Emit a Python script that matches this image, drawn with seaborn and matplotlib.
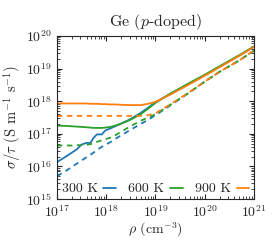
import numpy as np
import pandas as pd
import matplotlib
matplotlib.use("Agg")
import matplotlib.pyplot as plt
import seaborn as sns
from matplotlib.ticker import LogLocator

# carrier density (cm^-3) as log10 values
log_rho = [17.0, 17.18, 17.3, 17.4, 17.5, 17.6, 17.68, 17.74, 17.81, 17.91, 17.98,
           18.08, 18.18, 18.3, 18.48, 18.7, 18.85, 19.0, 19.3, 19.7, 20.0, 20.3, 20.7, 21.0]

# log10(sigma/tau), solid lines
solid_300 = [16.13, 16.3, 16.42, 16.52, 16.67, 16.72, 16.72, 16.87, 16.98, 16.98, 17.1,
             17.16, 17.23, 17.31, 17.44, 17.64, 17.8, 17.97, 18.22, 18.55, 18.8, 19.06, 19.4, 19.67]
solid_600 = [17.25, 17.24, 17.23, 17.22, 17.21, 17.2, 17.19, 17.18, 17.18, 17.18, 17.19,
             17.21, 17.25, 17.31, 17.42, 17.6, 17.77, 17.95, 18.23, 18.57, 18.81, 19.07, 19.41, 19.68]
solid_900 = [17.93, 17.93, 17.93, 17.93, 17.93, 17.93, 17.92, 17.92, 17.92, 17.91, 17.91,
             17.9, 17.9, 17.89, 17.88, 17.88, 17.92, 17.98, 18.2, 18.53, 18.78, 19.04, 19.39, 19.67]

# dashed lines
dash_300 = [15.7, 15.86, 15.98, 16.08, 16.18, 16.28, 16.36, 16.42, 16.5, 16.6, 16.66,
            16.74, 16.84, 16.95, 17.11, 17.3, 17.43, 17.57, 17.87, 18.28, 18.6, 18.9, 19.25, 19.55]
dash_600 = [16.64, 16.64, 16.64, 16.65, 16.65, 16.66, 16.68, 16.71, 16.75, 16.8, 16.83,
            16.88, 16.95, 17.06, 17.22, 17.4, 17.5, 17.6, 17.89, 18.28, 18.6, 18.9, 19.25, 19.55]
dash_900 = [17.55, 17.55, 17.55, 17.55, 17.55, 17.55, 17.55, 17.55, 17.55, 17.55, 17.55,
            17.55, 17.55, 17.55, 17.55, 17.55, 17.57, 17.63, 17.9, 18.29, 18.6, 18.9, 19.25, 19.56]

temps = ["300 K", "600 K", "900 K"]
colors = ["#1f77b4", "#2ca02c", "#ff7f0e"]

sns.set_style("ticks")
plt.rcParams["font.family"] = "serif"
plt.rcParams["font.serif"] = ["cmr10", "DejaVu Serif"]
plt.rcParams["mathtext.fontset"] = "cm"
plt.rcParams["axes.formatter.use_mathtext"] = True
plt.rcParams["font.size"] = 10

fig = plt.figure(figsize=(2.74, 2.40), dpi=100)
ax = fig.add_axes([0.208, 0.171, 0.719, 0.679])

rho = 10.0 ** np.array(log_rho)
handles = []
for t, c, s, d in zip(temps, colors, [solid_300, solid_600, solid_900],
                      [dash_300, dash_600, dash_900]):
    df = pd.DataFrame({"rho": rho, "solid": 10.0 ** np.array(s), "dash": 10.0 ** np.array(d)})
    sns.lineplot(data=df, x="rho", y="solid", color=c, lw=1.3, ax=ax)
    handles.append(ax.lines[-1])
    sns.lineplot(data=df, x="rho", y="dash", color=c, lw=1.3, ls=(0, (3, 2.5)), ax=ax)

ax.set_xscale("log")
ax.set_yscale("log")
ax.set_xlim(1e17, 1e21)
ax.set_ylim(1e15, 1e20)
ax.xaxis.set_major_locator(LogLocator(base=10, numticks=10))
ax.yaxis.set_major_locator(LogLocator(base=10, numticks=10))
ax.xaxis.set_minor_locator(LogLocator(base=10, subs=np.arange(2, 10), numticks=20))
ax.yaxis.set_minor_locator(LogLocator(base=10, subs=np.arange(2, 10), numticks=20))
ax.tick_params(which="both", direction="in", top=True, right=True, labelsize=10)
ax.tick_params(which="major", length=3.5, width=0.8)
ax.tick_params(which="minor", length=2, width=0.6)
for sp in ax.spines.values():
    sp.set_linewidth(0.8)

ax.set_xlabel(r"$\rho$ (cm$^{-3}$)", fontsize=10, labelpad=1)
ax.set_ylabel(r"$\sigma/\tau$ (S m$^{-1}$ s$^{-1}$)", fontsize=10.5, labelpad=2)
ax.set_title(r"Ge ($p$-doped)", fontsize=11.5, pad=7)

ax.legend(handles, temps, loc="lower center", ncol=3, frameon=False, markerfirst=False,
          handlelength=0.9, handletextpad=0.4, columnspacing=0.9, fontsize=10,
          borderaxespad=0.05, borderpad=0.2)

fig.savefig("out.png", dpi=100)
